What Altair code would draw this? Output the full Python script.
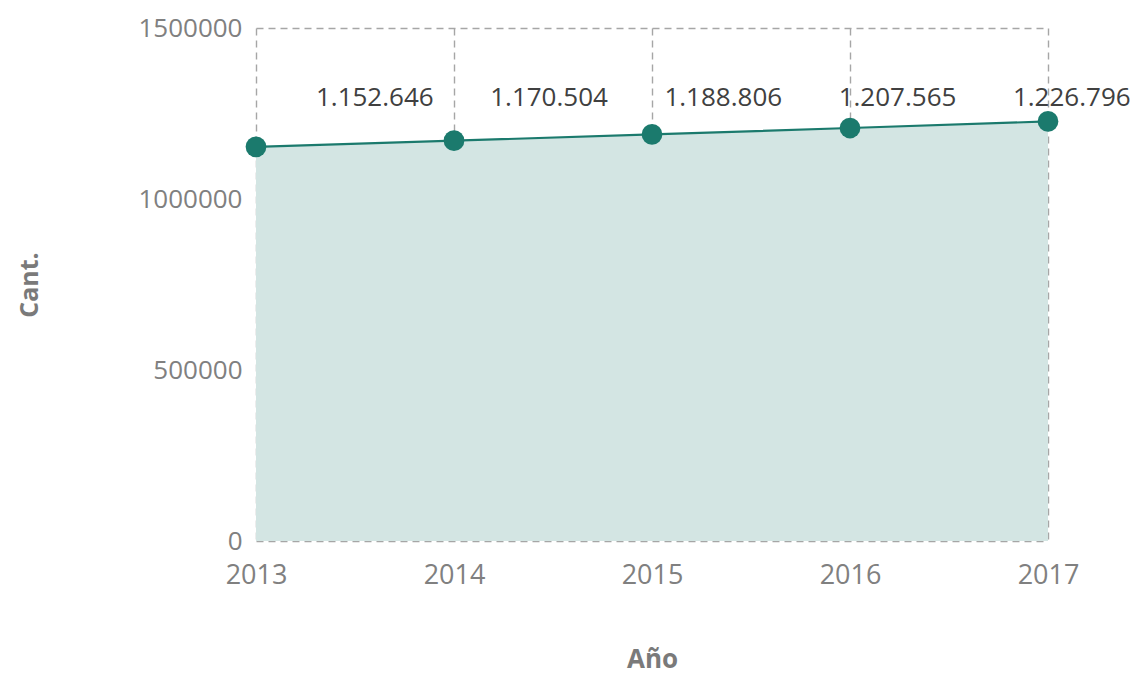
import altair as alt
import pandas as pd

years = [2013, 2014, 2015, 2016, 2017]
values = [1152646, 1170504, 1188806, 1207565, 1226796]
labels = ["1.152.646", "1.170.504", "1.188.806", "1.207.565", "1.226.796"]
y_ticks = [0, 500000, 1000000, 1500000]

df = pd.DataFrame({"year": years, "value": values, "label": labels})

TEAL = "#1b7a6d"
FILL = "#d3e5e3"
GRID = "#a6a6a6"
FONT = "Open Sans"

x_enc = alt.X(
    "year:Q",
    scale=alt.Scale(domain=[2013, 2017], nice=False, zero=False),
    axis=alt.Axis(
        values=years, format="d", title="Año", grid=True, gridDash=[7, 5],
        gridColor=GRID, gridWidth=1.4, domain=False, ticks=False, labelFlush=False,
        labelFontSize=27, labelColor="#808080", labelFont=FONT, labelPadding=21,
        titleFontSize=26, titleColor="#7a7a7a", titleFont=FONT, titleFontWeight="bold",
        titlePadding=58,
    ),
)
y_enc = alt.Y(
    "value:Q",
    scale=alt.Scale(domain=[0, 1500000], nice=False),
    axis=alt.Axis(
        values=y_ticks, format="d", title="Cant.", grid=True, gridDash=[7, 5],
        gridColor=GRID, gridWidth=1.4, domain=False, ticks=False, labelFlush=False,
        labelFontSize=26, labelColor="#808080", labelFont=FONT, labelPadding=14,
        titleFontSize=25, titleColor="#7a7a7a", titleFont=FONT, titleFontWeight="bold",
        titlePadding=95,
    ),
)

base = alt.Chart(df)

area = base.mark_area(color=FILL, opacity=1).encode(x=x_enc, y=y_enc)
line = base.mark_line(color=TEAL, strokeWidth=2.2).encode(x="year:Q", y="value:Q")
points = base.mark_circle(color=TEAL, size=430, opacity=1).encode(x="year:Q", y="value:Q")

text = base.transform_window(
    idx="row_number()"
).transform_calculate(
    lx="datum.year + 0.72 - 0.12 * datum.idx"
).mark_text(
    fontSize=26, font=FONT, color="#404040", align="center", baseline="middle"
).encode(
    x="lx:Q",
    y=alt.datum(1295000),
    text="label:N",
)

chart = alt.layer(area, line, points, text).properties(
    width=792, height=513,
    padding={"left": 248, "top": 20, "right": 91, "bottom": 150},
    autosize=alt.AutoSizeParams(type="none"),
).configure_view(stroke=None)

chart.save("out.html", embed_options={"renderer": "svg", "actions": False})
